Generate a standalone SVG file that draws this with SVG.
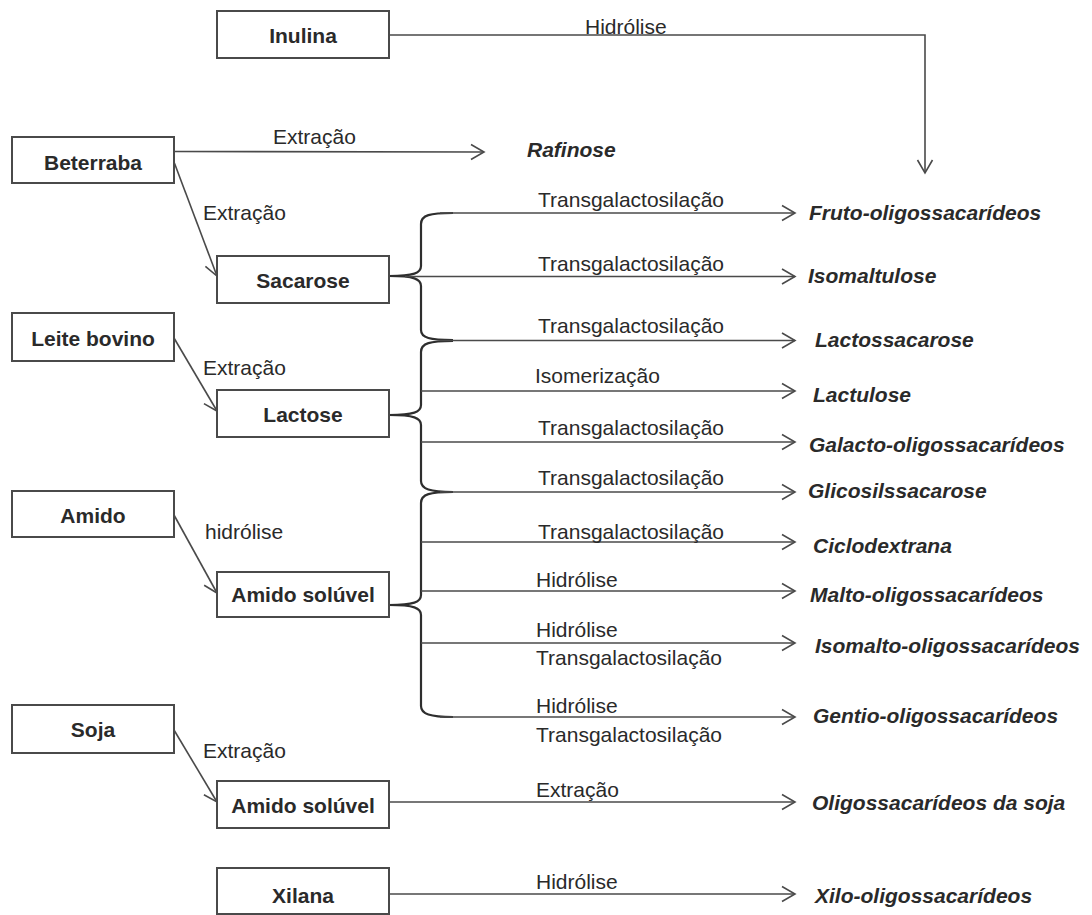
<svg xmlns="http://www.w3.org/2000/svg" width="1092" height="915" viewBox="0 0 1092 915">
<defs>
<style>
.box{fill:#fff;stroke:#4a4a4a;stroke-width:2}
.nt{font-family:"Liberation Sans",Arial,sans-serif;font-size:21px;font-weight:bold;fill:#2a2a2a;text-anchor:middle}
.lb{font-family:"Liberation Sans",Arial,sans-serif;font-size:21px;fill:#2a2a2a}
.pr{font-family:"Liberation Sans",Arial,sans-serif;font-size:21px;font-weight:bold;font-style:italic;fill:#2a2a2a}
.ln{fill:none;stroke:#4a4a4a;stroke-width:1.6}
.br{fill:none;stroke:#2e2e2e;stroke-width:2.2}
</style>
<marker id="ah" markerUnits="userSpaceOnUse" markerWidth="18" markerHeight="18" viewBox="0 0 16 18" refX="14" refY="9" orient="auto">
<path d="M1,1.5 L14,9 L1,16.5" fill="none" stroke="#4a4a4a" stroke-width="1.6"/>
</marker>
</defs>
<rect width="1092" height="915" fill="#fff"/>

<g id="connectors">
<path class="ln" d="M389,35 H925 V173" marker-end="url(#ah)"/>
<path class="ln" d="M174,151.5 L484,152" marker-end="url(#ah)"/>
<path class="ln" d="M174,162 L217,276" marker-end="url(#ah)"/>
<path class="ln" d="M174,338 L217,411" marker-end="url(#ah)"/>
<path class="ln" d="M174,515 L217,593" marker-end="url(#ah)"/>
<path class="ln" d="M174,730 L217,802" marker-end="url(#ah)"/>
<!-- braces -->
<path class="br" d="M453,213 C430,213 421,215 421,224 V266 C421,273 414,276 389,276 C414,276 421,279 421,286 V330 C421,338 430,340 453,340"/>
<path class="br" d="M453,341 C430,341 421,343 421,352 V405 C421,412 414,415 389,415 C414,415 421,418 421,425 V481 C421,489 430,492 453,492"/>
<path class="br" d="M453,492 C430,492 421,494 421,503 V595 C421,602 414,605 389,605 C414,605 421,608 421,615 V706 C421,714 430,717 453,717"/>
<!-- product arrows -->
<path class="ln" d="M440,213 H795" marker-end="url(#ah)"/>
<path class="ln" d="M405,276.5 H795" marker-end="url(#ah)"/>
<path class="ln" d="M440,340.5 H795" marker-end="url(#ah)"/>
<path class="ln" d="M421,391 H795" marker-end="url(#ah)"/>
<path class="ln" d="M421,442 H795" marker-end="url(#ah)"/>
<path class="ln" d="M440,492 H795" marker-end="url(#ah)"/>
<path class="ln" d="M421,542 H795" marker-end="url(#ah)"/>
<path class="ln" d="M421,591 H795" marker-end="url(#ah)"/>
<path class="ln" d="M421,643 H795" marker-end="url(#ah)"/>
<path class="ln" d="M440,717 H795" marker-end="url(#ah)"/>
<path class="ln" d="M389,802 H795" marker-end="url(#ah)"/>
<path class="ln" d="M389,894 H795" marker-end="url(#ah)"/>
</g>

<g id="edge-labels">
<text class="lb" x="585" y="34">Hidrólise</text>
<text class="lb" x="273" y="144">Extração</text>
<text class="lb" x="203" y="220">Extração</text>
<text class="lb" x="203" y="375">Extração</text>
<text class="lb" x="205" y="539">hidrólise</text>
<text class="lb" x="203" y="758">Extração</text>
<text class="lb" x="538" y="207">Transgalactosilação</text>
<text class="lb" x="538" y="271">Transgalactosilação</text>
<text class="lb" x="538" y="333">Transgalactosilação</text>
<text class="lb" x="535" y="383">Isomerização</text>
<text class="lb" x="538" y="435">Transgalactosilação</text>
<text class="lb" x="538" y="485">Transgalactosilação</text>
<text class="lb" x="538" y="539">Transgalactosilação</text>
<text class="lb" x="536" y="587">Hidrólise</text>
<text class="lb" x="536" y="637">Hidrólise</text>
<text class="lb" x="536" y="665">Transgalactosilação</text>
<text class="lb" x="536" y="713">Hidrólise</text>
<text class="lb" x="536" y="742">Transgalactosilação</text>
<text class="lb" x="536" y="797">Extração</text>
<text class="lb" x="536" y="889">Hidrólise</text>
</g>

<g id="n-inulina"><rect class="box" x="217" y="11" width="172" height="47"/><text class="nt" x="303" y="43">Inulina</text></g>
<g id="n-beterraba"><rect class="box" x="12" y="137" width="162" height="46"/><text class="nt" x="93" y="170">Beterraba</text></g>
<g id="n-sacarose"><rect class="box" x="217" y="256" width="172" height="47"/><text class="nt" x="303" y="288">Sacarose</text></g>
<g id="n-leite"><rect class="box" x="12" y="313" width="162" height="48"/><text class="nt" x="93" y="346">Leite bovino</text></g>
<g id="n-lactose"><rect class="box" x="217" y="390" width="172" height="47"/><text class="nt" x="303" y="422">Lactose</text></g>
<g id="n-amido"><rect class="box" x="12" y="491" width="162" height="46"/><text class="nt" x="93" y="523">Amido</text></g>
<g id="n-amido-soluvel"><rect class="box" x="217" y="572" width="172" height="45"/><text class="nt" x="303" y="602">Amido solúvel</text></g>
<g id="n-soja"><rect class="box" x="12" y="705" width="162" height="48"/><text class="nt" x="93" y="737">Soja</text></g>
<g id="n-amido-soluvel-2"><rect class="box" x="217" y="781" width="172" height="47"/><text class="nt" x="303" y="813">Amido solúvel</text></g>
<g id="n-xilana"><rect class="box" x="217" y="868" width="172" height="46"/><text class="nt" x="303" y="903">Xilana</text></g>

<g id="products">
<text class="pr" x="527" y="157">Rafinose</text>
<text class="pr" x="809" y="220">Fruto-oligossacarídeos</text>
<text class="pr" x="808" y="283">Isomaltulose</text>
<text class="pr" x="815" y="347">Lactossacarose</text>
<text class="pr" x="813" y="402">Lactulose</text>
<text class="pr" x="809" y="452">Galacto-oligossacarídeos</text>
<text class="pr" x="808" y="498">Glicosilssacarose</text>
<text class="pr" x="813" y="553">Ciclodextrana</text>
<text class="pr" x="810" y="602">Malto-oligossacarídeos</text>
<text class="pr" x="815" y="653">Isomalto-oligossacarídeos</text>
<text class="pr" x="813" y="723">Gentio-oligossacarídeos</text>
<text class="pr" x="812" y="810">Oligossacarídeos da soja</text>
<text class="pr" x="815" y="903">Xilo-oligossacarídeos</text>
</g>
</svg>
